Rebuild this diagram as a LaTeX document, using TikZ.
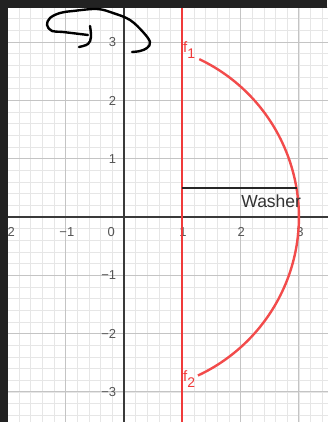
\documentclass[tikz,border=0pt]{standalone}
\usepackage{fontspec}
\setmainfont{Liberation Sans}
\definecolor{minorc}{HTML}{E6E6E6}
\definecolor{majorc}{HTML}{C4C4C4}
\definecolor{axisc}{HTML}{3A3A3A}
\definecolor{redc}{HTML}{F03A3A}
\definecolor{arcc}{HTML}{F24B4B}
\definecolor{tickc}{HTML}{555555}
\definecolor{framec}{HTML}{222222}
\tikzset{
  minorgrid/.style={draw=minorc, line width=0.6pt},
  majorgrid/.style={draw=majorc, line width=0.9pt},
  axisline/.style={draw=axisc, line width=1.4pt},
  tickx/.style={text=tickc, font=\fontsize{13}{13}\selectfont, anchor=base, inner sep=0pt},
  ticky/.style={text=tickc, font=\fontsize{13}{13}\selectfont, anchor=base east, inner sep=0pt},
  fnlabel/.style={text=redc, font=\fontsize{15}{15}\selectfont, anchor=base west, inner sep=0pt},
  scribble/.style={draw=black, line width=2.4pt, line cap=round, line join=round}
}
\begin{document}
\begin{tikzpicture}[x=1pt,y=-1pt]
\useasboundingbox (0,0) rectangle (327,422);
\fill[white] (0,0) rectangle (327,422);
\begin{scope}[shift={(124,217)},x=58.3pt,y=58.3pt]
  \clip (-2.2,-3.6) rectangle (3.6,3.8);
  \foreach \i in {-11,...,18} \draw[minorgrid] (\i/5,-3.6) -- (\i/5,3.8);
  \foreach \j in {-18,...,19} \draw[minorgrid] (-2.2,\j/5) -- (3.6,\j/5);
  \foreach \i in {-2,...,3} \draw[majorgrid] (\i,-3.6) -- (\i,3.8);
  \foreach \j in {-3,...,3} \draw[majorgrid] (-2.2,\j) -- (3.6,\j);
  \draw[axisline] (-2.2,0) -- (3.6,0);
  \draw[axisline] (0,-3.6) -- (0,3.8);
  % tick labels
  \node[tickx] (xm2) at (-2,-0.33) {−2};
  \node[tickx] (xm1) at (-0.98,-0.33) {−1};
  \node[tickx] (x0) at (-0.22,-0.33) {0};
  \node[tickx] (x1) at (1.01,-0.33) {1};
  \node[tickx] (x2) at (2.01,-0.33) {2};
  \node[tickx] (x3) at (3.02,-0.33) {3};
  \node[ticky] (y3) at (-0.13,2.92) {3};
  \node[ticky] (y2) at (-0.13,1.92) {2};
  \node[ticky] (y1) at (-0.13,0.92) {1};
  \node[ticky] (ym1) at (-0.13,-1.08) {−1};
  \node[ticky] (ym2) at (-0.13,-2.08) {−2};
  \node[ticky] (ym3) at (-0.13,-3.08) {−3};
  % red vertical line x=1
  \draw[redc, line width=2pt] (1,-3.6) -- (1,3.8);
  % arc
  \draw[arcc, line width=2.4pt] (64.5:3) arc[start angle=64.5, end angle=-65, radius=3];
  % washer
  \coordinate (wa) at (1,0.5);
  \coordinate (wb) at (2.96,0.5);
  \draw[draw=black!85, line width=2pt] (wa) -- (wb);
  \node[text=black!80, font=\fontsize{17.5}{17.5}\selectfont, anchor=base east, inner sep=0pt] (washer) at (3.04,0.17) {Washer};
  % function labels
  \node[fnlabel] (f1) at (1.01,2.83) {f\raisebox{-6pt}{\fontsize{14}{14}\selectfont 1}};
  \node[fnlabel] (f2) at (1.01,-2.83) {f\raisebox{-6pt}{\fontsize{14}{14}\selectfont 2}};
\end{scope}
% dark frame
\fill[framec] (0,0) rectangle (327,8);
\fill[framec] (0,0) rectangle (8,422);
% scribble
\draw[scribble] plot[smooth, tension=0.6] coordinates {(88,35) (63,32) (52,31) (47,25) (50,18) (60,13) (73,11) (97,9) (113,13) (130,20) (143,32) (150,42) (147,48) (140,51) (132,52)};
\draw[scribble] plot[smooth, tension=0.6] coordinates {(90,26) (91,37) (88,44) (79,47)};
\end{tikzpicture}
\end{document}
